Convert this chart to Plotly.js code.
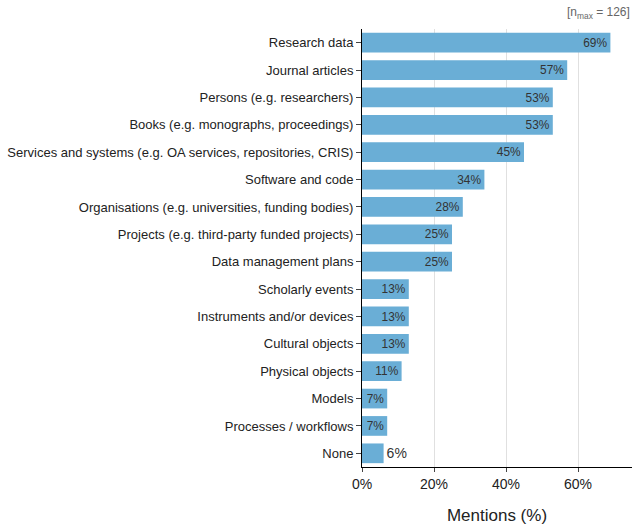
<!DOCTYPE html>
<html><head><script src="https://cdn.plot.ly/plotly-3.0.1.min.js"></script>
<style>body{margin:0}</style></head><body><div id="c" style="width:641px;height:531px"></div>
<script>
const categories=["Research data","Journal articles","Persons (e.g. researchers)","Books (e.g. monographs, proceedings)","Services and systems (e.g. OA services, repositories, CRIS)","Software and code","Organisations (e.g. universities, funding bodies)","Projects (e.g. third-party funded projects)","Data management plans","Scholarly events","Instruments and/or devices","Cultural objects","Physical objects","Models","Processes / workflows","None"];
const values=[69,57,53,53,45,34,28,25,25,13,13,13,11,7,7,6];
const labels=values.map(v=>v+"%");
Plotly.newPlot("c",[{type:"bar",orientation:"h",x:values,y:categories,text:labels,
textposition:values.map(v=>v>6?"inside":"outside"),insidetextanchor:"end",
textfont:{color:"#333",size:13},outsidetextfont:{color:"#333",size:14},
marker:{color:"#6aaed6"},width:0.72,hoverinfo:"none"}],
{width:641,height:531,margin:{l:362,r:9,t:29,b:64},font:{family:"Liberation Sans, Arial",color:"#222"},
plot_bgcolor:"#fff",paper_bgcolor:"#fff",showlegend:false,
xaxis:{range:[0,75],tickvals:[0,20,40,60],ticktext:["0%","20%","40%","60%"],gridcolor:"#e0e0e0",
showline:true,linecolor:"#000",ticks:"outside",ticklen:4,tickfont:{size:14},zeroline:false,
title:{text:"Mentions (%)",font:{size:17},standoff:18}},
yaxis:{autorange:"reversed",showline:true,linecolor:"#000",ticks:"outside",ticklen:5,tickfont:{size:13}},
annotations:[{xref:"paper",yref:"paper",x:1,y:1,yshift:6,xanchor:"right",yanchor:"bottom",showarrow:false,
text:"[n<sub>max</sub> = 126]",font:{size:12,color:"#666"}}]},{staticPlot:true});
</script></body></html>
